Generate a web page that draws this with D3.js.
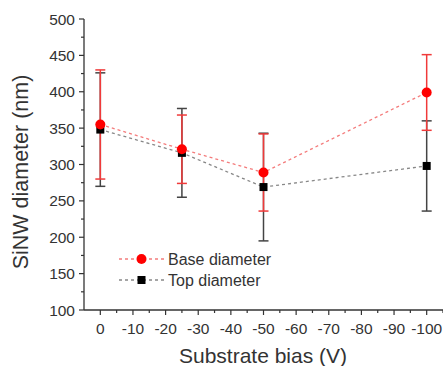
<!DOCTYPE html>
<html>
<head>
<meta charset="utf-8">
<script src="https://cdn.jsdelivr.net/npm/d3@7"></script>
<style>
  body { margin: 0; background: #fff; }
  svg { display: block; font-family: "Liberation Sans", Arial, sans-serif; }
</style>
</head>
<body>
<svg id="chart" width="443" height="366"></svg>
<script>
"use strict";

// substrate bias (V)
const bias = [0, -25, -50, -100];
// base diameter (nm) and its spread
const baseMean = [355, 321, 289, 399];
const baseErr = [75, 47, 53, 52];
// top diameter (nm) and its spread
const topMean = [348, 316, 269, 298];
const topErr = [78, 61, 74, 62];

const xTicks = [0, -10, -20, -30, -40, -50, -60, -70, -80, -90, -100];
const yTicks = [100, 150, 200, 250, 300, 350, 400, 450, 500];

const svg = d3.select("#chart");

const x = d3.scaleLinear().domain([5, -105]).range([84, 443]);
const y = d3.scaleLinear().domain([100, 500]).range([310, 19]);

// axes
const xAxis = svg.append("g").attr("transform", "translate(0,310)");
xAxis.append("line").attr("x1", 84).attr("x2", 443).attr("y1", 0).attr("y2", 0)
     .attr("stroke", "#333").attr("stroke-width", 1.3);
xAxis.selectAll(".maj").data(xTicks).enter().append("line")
     .attr("x1", d => x(d)).attr("x2", d => x(d)).attr("y1", 0).attr("y2", 5)
     .attr("stroke", "#333").attr("stroke-width", 1.2);
xAxis.selectAll(".min").data(xTicks.map(d => d - 5)).enter().append("line")
     .attr("x1", d => x(d)).attr("x2", d => x(d)).attr("y1", 0).attr("y2", 3)
     .attr("stroke", "#333").attr("stroke-width", 1.2);
xAxis.selectAll("text").data(xTicks).enter().append("text")
     .attr("x", d => x(d)).attr("y", 23.5).attr("text-anchor", "middle")
     .attr("font-size", 15.5).attr("fill", "#333").text(d => d);

const yAxis = svg.append("g").attr("transform", "translate(84,0)");
yAxis.append("line").attr("x1", 0).attr("x2", 0).attr("y1", 19).attr("y2", 310)
     .attr("stroke", "#333").attr("stroke-width", 1.3);
yAxis.selectAll(".maj").data(yTicks).enter().append("line")
     .attr("x1", -5).attr("x2", 0).attr("y1", d => y(d)).attr("y2", d => y(d))
     .attr("stroke", "#333").attr("stroke-width", 1.2);
yAxis.selectAll(".min").data(yTicks.slice(1).map(d => d - 25)).enter().append("line")
     .attr("x1", -3).attr("x2", 0).attr("y1", d => y(d)).attr("y2", d => y(d))
     .attr("stroke", "#333").attr("stroke-width", 1.2);
yAxis.selectAll("text").data(yTicks).enter().append("text")
     .attr("x", -9).attr("y", d => y(d) + 5.5).attr("text-anchor", "end")
     .attr("font-size", 15.5).attr("fill", "#333").text(d => d);

svg.append("text").attr("x", 263).attr("y", 363).attr("text-anchor", "middle")
   .attr("font-size", 21).attr("fill", "#333").text("Substrate bias (V)");
svg.append("text").attr("transform", "translate(28,172) rotate(-90)")
   .attr("text-anchor", "middle").attr("font-size", 21.5).attr("fill", "#333")
   .text("SiNW diameter (nm)");

function drawSeries(mean, err, color, lineColor)
{
    const pts = bias.map((b, i) => [b, mean[i], err[i]]);
    const line = d3.line().x(d => x(d[0])).y(d => y(d[1]));
    svg.append("path").datum(pts).attr("d", line).attr("fill", "none")
       .attr("stroke", lineColor).attr("stroke-width", 1.3).attr("stroke-dasharray", "3,3");

    const g = svg.append("g");
    pts.forEach(d =>
    {
        const cx = x(d[0]);
        g.append("line").attr("x1", cx).attr("x2", cx)
         .attr("y1", y(d[1] - d[2])).attr("y2", y(d[1] + d[2]))
         .attr("stroke", color).attr("stroke-width", 1.5);
        [d[1] - d[2], d[1] + d[2]].forEach(v =>
            g.append("line").attr("x1", cx - 5).attr("x2", cx + 5)
             .attr("y1", y(v)).attr("y2", y(v))
             .attr("stroke", color).attr("stroke-width", 1.5));
    });
    return pts;
}

function drawMarkers(pts, color, marker)
{
    pts.forEach(d =>
    {
        const cx = x(d[0]), cy = y(d[1]);
        if (marker == "circle")
            svg.append("circle").attr("cx", cx).attr("cy", cy).attr("r", 5).attr("fill", color);
        else
            svg.append("rect").attr("x", cx - 4).attr("y", cy - 4).attr("width", 8).attr("height", 8).attr("fill", color);
    });
}

const topPts = drawSeries(topMean, topErr, "#444", "#888");
const basePts = drawSeries(baseMean, baseErr, "#f03a3a", "#f47c7c");
drawMarkers(topPts, "#000", "square");
drawMarkers(basePts, "#f00", "circle");

// legend
const legend = [["Base diameter", "#f47c7c", "#f00", "circle", 259],
                ["Top diameter", "#888", "#000", "square", 280]];
legend.forEach(l =>
{
    svg.append("line").attr("x1", 119).attr("x2", 164).attr("y1", l[4]).attr("y2", l[4])
       .attr("stroke", l[1]).attr("stroke-width", 1.3).attr("stroke-dasharray", "3,3");
    if (l[3] == "circle")
        svg.append("circle").attr("cx", 141.5).attr("cy", l[4]).attr("r", 5).attr("fill", l[2]);
    else
        svg.append("rect").attr("x", 137.5).attr("y", l[4] - 4).attr("width", 8).attr("height", 8).attr("fill", l[2]);
    svg.append("text").attr("x", 168).attr("y", l[4] + 5.5).attr("font-size", 16)
       .attr("fill", "#333").text(l[0]);
});
</script>
</body>
</html>
